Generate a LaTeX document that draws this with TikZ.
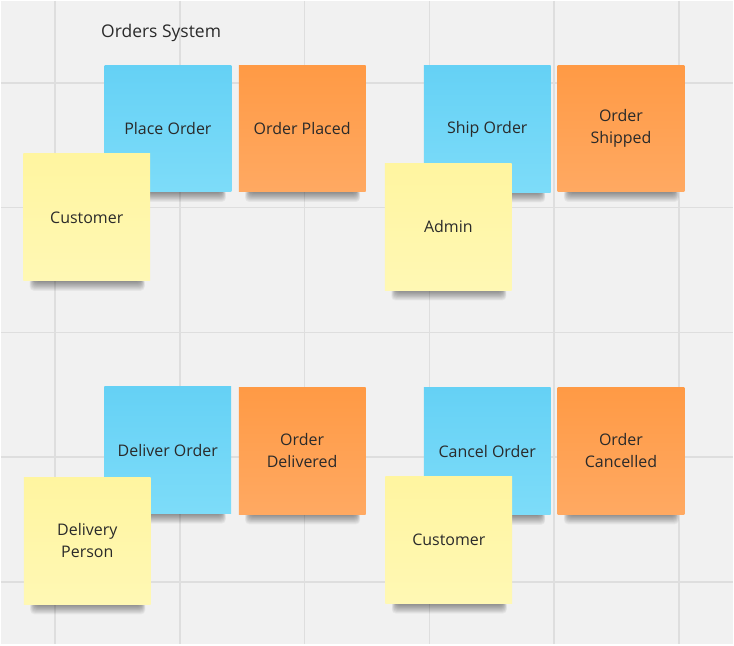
\documentclass[tikz,border=0pt]{standalone}
\usepackage{fontspec}
\setmainfont{Open Sans}
\usetikzlibrary{calc}
\pgfdeclarelayer{bg}
\pgfsetlayers{bg,main}
\definecolor{canvas}{HTML}{F1F1F1}
\definecolor{gridc}{HTML}{DEDEDE}
\definecolor{bluetop}{HTML}{65D1F5}
\definecolor{bluebot}{HTML}{7DDCF9}
\definecolor{orgtop}{HTML}{FF9A45}
\definecolor{orgbot}{HTML}{FFA962}
\definecolor{yeltop}{HTML}{FFF5A0}
\definecolor{yelbot}{HTML}{FFF8B4}
\definecolor{txt}{HTML}{2A2A2A}
\tikzset{
  note/.style={minimum width=127pt, minimum height=127pt, inner sep=0pt, align=center,
    text=txt, font=\fontsize{16}{22}\selectfont, shading angle=0},
  action/.style={note, bottom color=bluebot, top color=bluetop},
  event/.style={note, bottom color=orgbot, top color=orgtop},
  actor/.style={note, bottom color=yelbot, top color=yeltop},
  gridline/.style={draw=gridc, line width=1.5pt},
  title/.style={text=txt, font=\fontsize{17.5}{21}\selectfont, inner sep=0pt}
}
\newcommand{\noteshadow}[1]{%
  \foreach \d in {1,...,11}{%
    \fill[black, opacity=0.042, rounded corners=4pt]
      ($(#1.south west)+(12-\d*0.5,-3)$) rectangle ($(#1.south east)+(-10+\d*0.4,\d*0.9)$);
  }%
}
\begin{document}
\begin{tikzpicture}[x=1pt,y=-1pt]
\begin{pgfonlayer}{bg}
\fill[canvas] (0,0) rectangle (734,645);
\foreach \gx in {54.5,179.5,304.5,429.5,554.5,679.5}{\draw[gridline] (\gx,0) -- (\gx,645);}
\foreach \gy in {82.3,207.3,332.3,457.3,582.3}{\draw[gridline] (0,\gy) -- (734,\gy);}
\end{pgfonlayer}
\useasboundingbox (0,0) rectangle (734,645);

\node[title] (ttl) at (160.7,32) {Orders System};

\node[action] (placeorder) at (167.5,128) {Place Order};
\node[event] (orderplaced) at (302,128) {Order Placed};
\node[actor] (customera) at (86.2,217) {Customer};

\node[action] (shiporder) at (487.5,128.5) {Ship Order};
\node[event] (ordershipped) at (621.5,128) {Order\\Shipped};
\node[actor] (admin) at (448.5,226.7) {Admin};

\node[action] (deliverorder) at (167.4,450.3) {Deliver Order};
\node[event] (orderdelivered) at (302,451) {Order\\Delivered};
\node[actor] (deliveryperson) at (86.7,541.2) {Delivery\\Person};

\node[action] (cancelorder) at (487.5,451.5) {Cancel Order};
\node[event] (ordercancelled) at (621.5,451) {Order\\Cancelled};
\node[actor] (customerb) at (449,540.5) {Customer};

\begin{pgfonlayer}{bg}
\noteshadow{placeorder}
\noteshadow{orderplaced}
\noteshadow{customera}
\noteshadow{shiporder}
\noteshadow{ordershipped}
\noteshadow{admin}
\noteshadow{deliverorder}
\noteshadow{orderdelivered}
\noteshadow{deliveryperson}
\noteshadow{cancelorder}
\noteshadow{ordercancelled}
\noteshadow{customerb}
\end{pgfonlayer}
\end{tikzpicture}
\end{document}
